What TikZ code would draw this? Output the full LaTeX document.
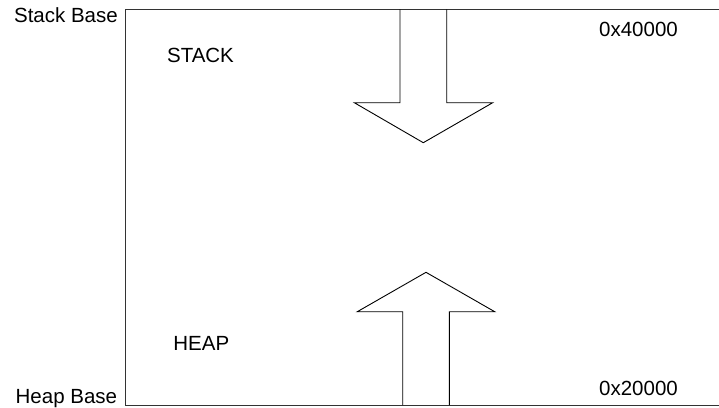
\documentclass[tikz,border=0pt]{standalone}
\usepackage{fontspec}
\setmainfont{Liberation Sans}
\begin{document}
\begin{tikzpicture}[x=1pt,y=-1pt,
    label/.style={inner sep=0pt, font=\fontsize{20.5}{24}\selectfont},
    memline/.style={line width=1pt, black!80},
    growarrow/.style={line width=0.9pt, black, line join=miter}]
        \useasboundingbox (0,0) rectangle (719,407);

        % memory block (open on the right)
        \draw[memline] (719,9.3) -- (125.5,9.3) -- (125.5,405) -- (719,405);

        % stack grows down
        \draw[growarrow] (400,9.3) -- (400,102.7) -- (354.3,102.7) -- (423.3,142.7)
            -- (492.7,102.7) -- (446.7,102.7) -- (446.7,9.3);

        % heap grows up
        \draw[growarrow] (402.7,405) -- (402.7,311.7) -- (357.3,311.7) -- (426,272.3)
            -- (494.7,311.7) -- (449.3,311.7) -- (449.3,405);

        \node[label, anchor=base east] (stackbase) at (118,22.7) {Stack Base};
        \node[label, anchor=base east] (heapbase) at (117.3,403) {Heap Base};
        \node[label, anchor=base] (stack) at (200.5,62.7) {STACK};
        \node[label, anchor=base] (heap) at (201.3,350.7) {HEAP};
        \node[label, anchor=base] (stacktop) at (638.5,36.7) {0x40000};
        \node[label, anchor=base] (heaptop) at (638.5,395) {0x20000};
      \end{tikzpicture}
\end{document}
